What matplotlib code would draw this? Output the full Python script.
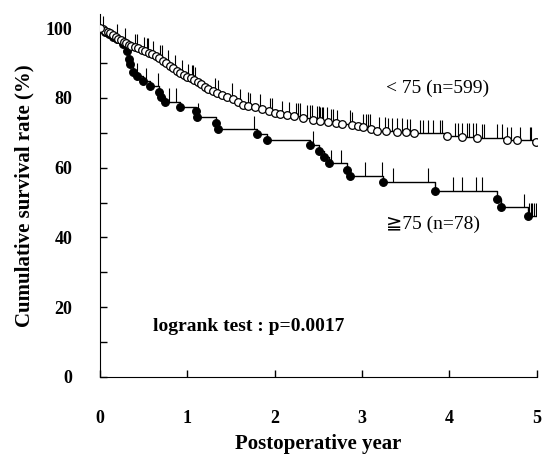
import matplotlib.pyplot as plt
import numpy as np

# <75 group (n=599): event times (years) and survival (%) after each event
young_event_t = [0.03, 0.06, 0.09, 0.12, 0.15, 0.18, 0.21, 0.24, 0.27, 0.30, 0.33, 0.36,
                 0.40, 0.44, 0.48, 0.52, 0.56, 0.60, 0.64, 0.68, 0.72, 0.76, 0.80, 0.84,
                 0.88, 0.92, 0.96, 1.00, 1.04, 1.08, 1.12, 1.16, 1.20, 1.24, 1.29, 1.34,
                 1.40, 1.46, 1.52, 1.58, 1.64, 1.70, 1.78, 1.86, 1.94, 2.00, 2.06, 2.14,
                 2.22, 2.32, 2.44, 2.52, 2.61, 2.70, 2.77, 2.88, 2.95, 3.01, 3.10, 3.17,
                 3.28, 3.40, 3.50, 3.60, 3.97, 4.15, 4.32, 4.66, 4.77, 4.99]
young_event_s = [99.7, 99.3, 98.9, 98.5, 98.0, 97.5, 97.0, 96.6, 96.1, 95.7, 95.3, 95.0,
                 94.6, 94.2, 93.8, 93.4, 93.0, 92.5, 92.0, 91.3, 90.6, 89.9, 89.2, 88.5,
                 87.8, 87.1, 86.5, 86.0, 85.6, 85.1, 84.6, 83.9, 83.2, 82.6, 82.0, 81.4,
                 80.9, 80.4, 79.6, 78.8, 78.0, 77.6, 77.3, 76.9, 76.3, 75.8, 75.4, 75.0,
                 74.7, 74.3, 73.8, 73.5, 73.1, 72.8, 72.6, 72.3, 72.0, 71.7, 71.2, 70.6,
                 70.4, 70.3, 70.1, 70.0, 69.1, 68.9, 68.6, 68.0, 67.8, 67.3]
young_censor_t = [0.03, 0.19, 0.29, 0.40, 0.43, 0.51, 0.54, 0.55, 0.61, 0.69, 0.71, 0.78,
                  0.86, 0.94, 1.01, 1.05, 1.06, 1.09, 1.32, 1.35, 1.51, 1.60, 1.69, 1.72,
                  1.83, 1.95, 1.97, 2.08, 2.17, 2.25, 2.27, 2.29, 2.37, 2.40, 2.43, 2.49,
                  2.51, 2.52, 2.54, 2.55, 2.60, 2.65, 2.67, 2.71, 2.86, 2.89, 3.01, 3.05,
                  3.07, 3.09, 3.20, 3.26, 3.30, 3.34, 3.40, 3.46, 3.51, 3.55, 3.66, 3.70,
                  3.75, 3.81, 3.89, 3.92, 4.06, 4.10, 4.14, 4.20, 4.23, 4.27, 4.31, 4.37,
                  4.40, 4.55, 4.60, 4.66, 4.71, 4.81, 4.92, 4.94]

# >=75 group (n=78)
old_event_t = [0.06, 0.10, 0.15, 0.20, 0.26, 0.31, 0.33, 0.35, 0.38, 0.43, 0.49, 0.57,
               0.68, 0.70, 0.74, 0.92, 1.10, 1.11, 1.33, 1.35, 1.80, 1.91, 2.40, 2.51,
               2.56, 2.62, 2.83, 2.86, 3.24, 3.83, 4.54, 4.59, 4.90]
old_event_s = [99.0, 98.3, 97.6, 97.0, 95.4, 93.4, 91.1, 89.7, 87.4, 86.3, 84.9, 83.4,
               81.7, 80.3, 78.9, 77.4, 76.3, 74.6, 72.9, 71.1, 69.7, 68.0, 66.6, 64.9,
               63.1, 61.4, 59.4, 57.7, 56.0, 53.4, 50.9, 48.6, 46.0]
old_censor_t = [0.43, 0.53, 0.66, 0.79, 0.87, 1.12, 1.76, 2.44, 2.65, 2.76, 3.04, 3.23,
                3.35, 3.75, 4.04, 4.14, 4.31, 4.37, 4.85, 4.91, 4.93, 4.95, 4.97, 4.99]

serif = ['Liberation Serif', 'DejaVu Serif']
sym_font = ['Liberation Serif', 'DejaVu Sans', 'Noto Sans CJK JP']


def km_draw(ax, ev_t, ev_s, cens_t, face):
    ev_t = np.array(ev_t)
    ev_s = np.array(ev_s)
    xs = np.concatenate([[0], ev_t, [5.0]])
    ys = np.concatenate([[100], ev_s, [ev_s[-1]]])
    ax.step(xs, ys, where='post', color='black', lw=1.0, zorder=2)
    levels = np.concatenate([[100], ev_s])
    cs = levels[np.searchsorted(ev_t, cens_t, side='right')]
    ax.vlines(cens_t, cs, cs + 3.8, color='black', lw=0.8, zorder=2)
    ax.plot(ev_t, ev_s, 'o', ms=5.5, mfc=face, mec='black', mew=0.9, zorder=3)


fig = plt.figure(figsize=(5.46, 4.58), dpi=100)
ax = fig.add_axes([0.183, 0.177, 0.800, 0.792])

km_draw(ax, old_event_t, old_event_s, old_censor_t, 'black')
km_draw(ax, young_event_t, young_event_s, young_censor_t, 'white')
ax.plot([0], [100], 'o', ms=5.5, mfc='white', mec='black', mew=0.9, zorder=4)

ax.set_xlim(0, 5)
ax.set_ylim(0, 104)
ax.spines['top'].set_visible(False)
ax.spines['right'].set_visible(False)

ax.set_xticks([0, 1, 2, 3, 4, 5])
ax.set_yticks(range(0, 101, 10))
ax.set_yticklabels([str(v) if v % 20 == 0 else '' for v in range(0, 101, 10)])
ax.tick_params(direction='in', length=5, width=1.0)
ax.tick_params(axis='x', pad=24)
ax.tick_params(axis='y', pad=20)
for lab in ax.get_xticklabels() + ax.get_yticklabels():
    lab.set_family(serif)
    lab.set_fontweight('bold')
    lab.set_fontsize(13)

ax.set_xlabel('Postoperative year', family=serif, fontweight='bold', fontsize=15, labelpad=5)
ax.set_ylabel('Cumulative survival rate (%)', family=serif, fontweight='bold', fontsize=15, labelpad=8)

ax.text(3.87, 82.8, '< 75 (n=599)', family=serif, fontsize=14, ha='center', va='center')
ax.text(3.81, 43.7, '\u226775 (n=78)', family=sym_font, fontsize=14, ha='center', va='center')
ax.text(1.70, 14.4, 'logrank test : p=0.0017', family=serif, fontweight='bold', fontsize=14,
        ha='center', va='center')

fig.savefig('out.png', dpi=100)
